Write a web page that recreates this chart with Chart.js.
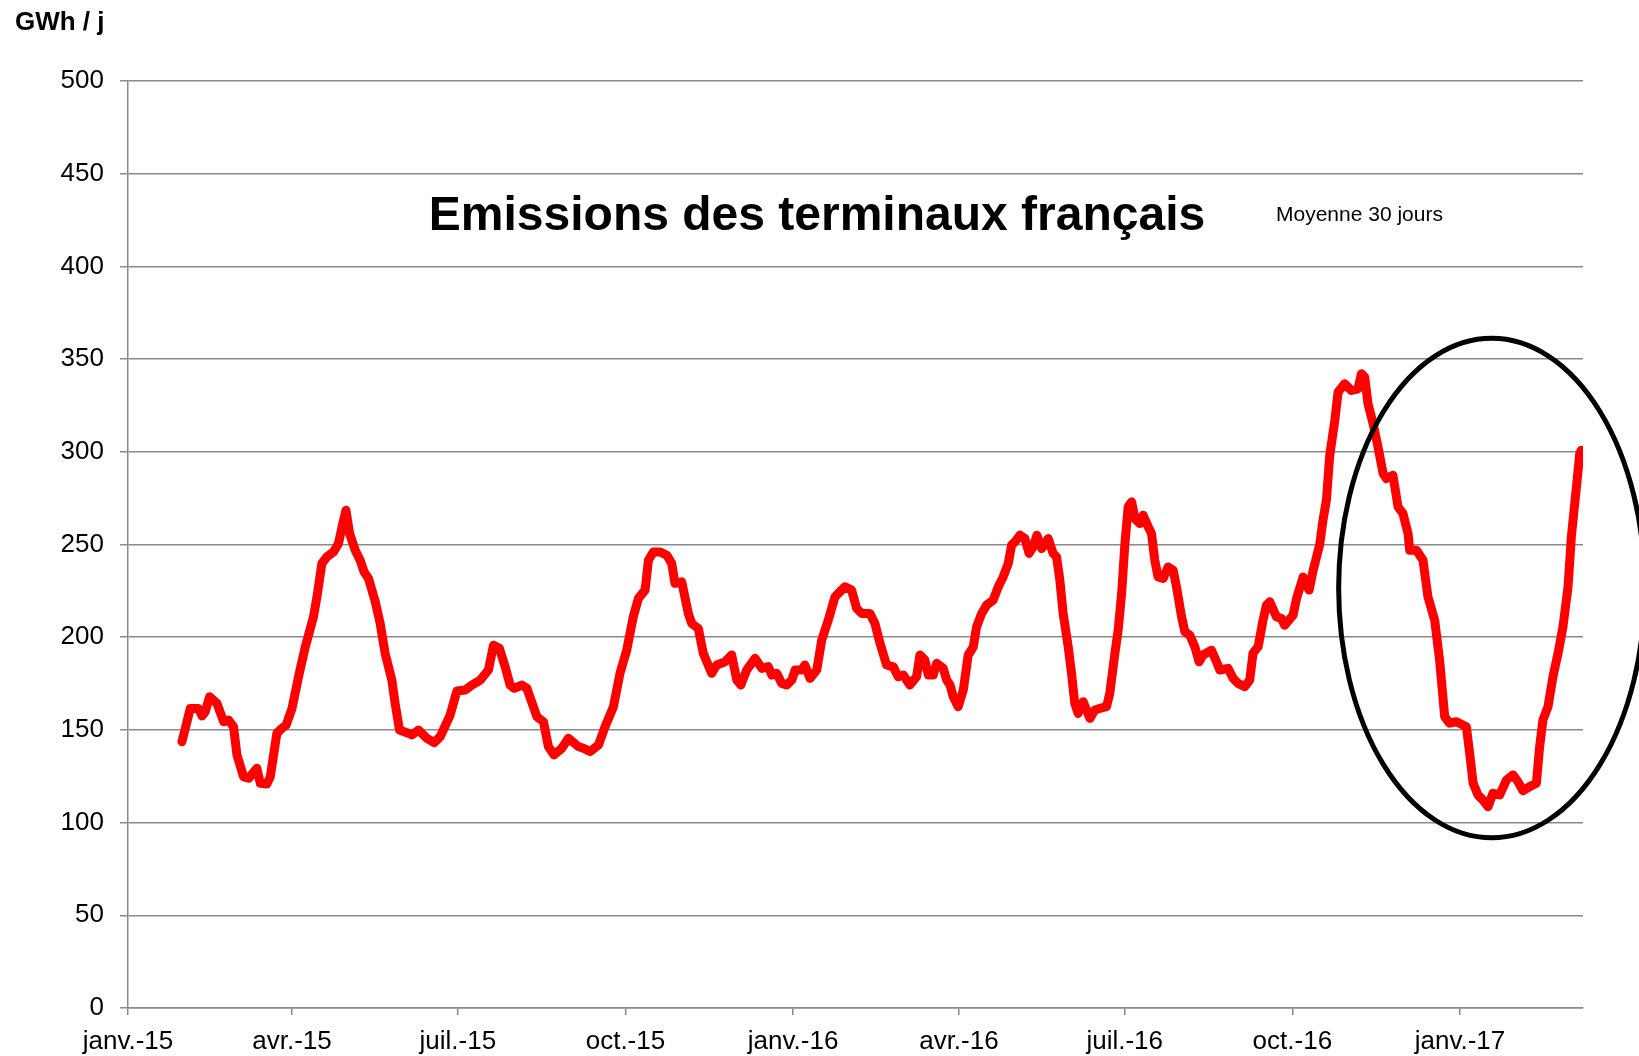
<!DOCTYPE html>
<html>
<head>
<meta charset="utf-8">
<script src="https://cdn.jsdelivr.net/npm/chart.js@4/dist/chart.umd.min.js"></script>
<style>
  html, body { margin: 0; padding: 0; background: #ffffff; }
  #wrap { width: 1639px; height: 1056px; position: relative; }
</style>
</head>
<body>
<div id="wrap"><canvas id="c" width="1639" height="1056"></canvas></div>
<script>
// Days since 1 Jan 2015 (x) and 30-day average emissions in GWh/j (y)
const days = [
  29.6, 34.2, 38.7, 40.6, 42.4, 44.8, 48.8, 52.5, 55.2, 57.9, 59.8, 63.4, 66.2, 70.7, 72.6, 76.2, 78.1,
  81.7, 84.5, 86.8, 90, 93.6, 97.3, 101.8, 103.7, 106.4, 109.1, 112.8, 115.5, 117.9, 119.6, 121.6,
  124.7, 127.4, 129.6, 132, 135.7, 138.4, 141.1, 144.8, 146.6, 149, 153, 155.8, 159.4, 164, 168,
  171.3, 176.8, 180.5, 185, 188.7, 193.3, 197.8, 200.6, 203.8, 207, 209.7, 211.9, 216.1, 218.9,
  224.4, 228, 230.7, 233.8, 238.1, 241.7, 247.2, 249.9, 253.6, 258.2, 261.8, 266.4, 270, 273.7,
  277.3, 280.1, 283.8, 285.6, 288.3, 292, 295.7, 298.4, 300.2, 303.9, 307.5, 309.4, 313, 315.7,
  320.3, 323.1, 327.6, 331.3, 334.1, 336.3, 339.5, 344.1, 347.8, 351.4, 353.3, 356, 358.8, 361.5,
  364.3, 366.1, 369.7, 371.5, 374.3, 378, 380.7, 384.3, 388, 390.7, 393.5, 397.1, 399.9, 402.6,
  407.2, 409.9, 412.7, 416.3, 420, 422.7, 425.5, 429.1, 432.8, 434.6, 437.3, 439.2, 441.9, 443.8,
  447.4, 449.3, 451.1, 452.9, 455.6, 458.4, 461.1, 463.9, 465.7, 468.5, 471.2, 474.8, 477.6, 480.3,
  483.1, 484.9, 486.7, 489.5, 492.2, 494.5, 496.8, 498.8, 501.4, 505, 507.7, 509.6, 511.4, 513.2,
  516, 517.8, 519.6, 521.4, 524.2, 527.9, 530.6, 533.3, 537, 538.8, 541.6, 543.4, 545.3, 547.1,
  548.9, 550.8, 552.6, 555.3, 557.1, 559.9, 561.7, 563.5, 565.3, 568.1, 570.8, 573.6, 575.4, 578.2,
  580, 582.7, 585.5, 587.8, 590, 594.6, 597.4, 599.2, 603.7, 606.5, 609.2, 612.9, 615.6, 617.4,
  620.2, 622.9, 624.8, 626.6, 630.3, 633, 634.8, 639.4, 641.3, 644.9, 648.2, 650.4, 654, 655.8,
  657.7, 659.5, 662.3, 664.1, 667.7, 671.4, 675, 676.9, 678.7, 680.5, 683.3, 686, 688.8, 690.6,
  694.2, 697, 699.7, 702.5, 703.4, 707.1, 710.7, 713.4, 717.1, 719.8, 722.6, 725.3, 729, 734.5,
  736.3, 738.2, 740.9, 743.6, 746.4, 749.1, 752.8, 756.5, 760.1, 762.8, 765.6, 769.2, 772.9, 774.7,
  776.5, 779.3, 782, 784.8, 787.5, 790.3, 792.1, 794.9, 796.7, 797.6
];
const emissions = [
  143.6, 161.6, 161.6, 157.5, 159.8, 167.9, 164.3, 154.4, 155.3, 151.7, 136.5, 124.8, 123.9, 129.3, 121.2, 120.8, 124.8,
  148.2, 150.9, 152.6, 161.6, 178.7, 194.8, 211, 221.8, 239.8, 243.3, 246, 250.5, 261.3, 268.5, 255.9,
  246.9, 241.5, 235.2, 231.7, 219.1, 207.4, 191.3, 176.9, 164.3, 149.9, 148.5, 147.3, 149.9, 145.5, 143.1,
  146.3, 158, 171, 171.5, 174.2, 176.9, 182.3, 195.7, 194, 184, 174.2, 172.4, 174.2, 172.4,
  157.1, 154.4, 141, 136.5, 140.1, 145.5, 141, 140.1, 138.3, 141.9, 151.7, 162.5, 180.5, 193,
  211, 220.9, 225.4, 241.5, 246, 246, 244.2, 239.8, 229, 229.9, 212.8, 207.4, 204.7, 191.3,
  180.5, 185, 186.7, 190.4, 176.9, 174.2, 182.3, 188.6, 183.2, 184.1, 179.6, 180.5, 175.1, 174.2,
  176.9, 182.3, 182.3, 185, 177.8, 182.3, 198.4, 209.2, 221.8, 224.5, 227.2, 225.4, 215.5, 212.8,
  212.8, 207.4, 196.7, 185, 184, 178.7, 179.6, 174.2, 178.7, 190.4, 187.7, 179.6, 179.6, 185.9,
  183.2, 176.9, 174.2, 167.9, 162.5, 171.5, 190.4, 194.8, 205.6, 212.8, 217.3, 220, 227.2, 232.5,
  239.8, 249.6, 251.4, 255, 253.2, 245.2, 248.7, 255, 247.8, 253.2, 245.2, 243.3, 230.8, 212.8,
  194.8, 180.5, 164.3, 158.9, 165.2, 156.2, 160.7, 161.6, 162.5, 169.7, 191.3, 203.8, 223.6, 250.5,
  270.3, 273, 264, 261.3, 265.8, 259.5, 255.9, 241.5, 232.5, 231.7, 237.9, 236.1, 227.2, 211,
  202.9, 201.1, 194.8, 186.7, 190.4, 193, 186.7, 182.3, 183.2, 177.8, 175.1, 173.3, 176.9, 191.3,
  194.8, 209.2, 217.3, 219.1, 211, 210.1, 206.5, 211.9, 220.9, 232.5, 225.4, 236.1, 250, 263.1,
  274, 298, 317, 332.2, 336.7, 333.1, 334, 342.1, 340.3, 326, 315.2, 302.6, 288.3, 285.6,
  287.3, 270.3, 266.7, 255.9, 246.9, 246.9, 241.5, 221.8, 209.2, 187.7, 157.1, 153.6, 154.4, 151.7,
  137.4, 121.2, 114.9, 112.2, 108.6, 115.8, 114.9, 123, 125.7, 122.1, 117.2, 119.4, 121.2, 141,
  155.3, 162.5, 178.7, 191.3, 205.6, 227.2, 254.1, 281, 299, 300.8
];
// x-axis tick positions (days since 1 Jan 2015) and their labels
const tickDays = [0, 90, 181, 273, 365, 456, 547, 639, 731];
const tickLabels = ['janv.-15', 'avr.-15', 'juil.-15', 'oct.-15', 'janv.-16', 'avr.-16', 'juil.-16', 'oct.-16', 'janv.-17'];
const xMax = 798.5;
const yTicks = [0, 50, 100, 150, 200, 250, 300, 350, 400, 450, 500];
// highlighted region (ellipse) in data units: centre day, centre value, half-width in days, half-height in GWh/j
const highlight = { day: 748.4, value: 226.5, rDays: 84, rValue: 134.7 };

const points = days.map((d, i) => ({ x: d, y: emissions[i] }));
const FONT = "'Liberation Sans', Arial, Helvetica, sans-serif";
const GRID = '#8a8a8a';

const overlay = {
  id: 'overlay',
  afterDatasetsDraw(chart) {
    const ctx = chart.ctx;
    const xs = chart.scales.x, ys = chart.scales.y;
    const cx = xs.getPixelForValue(highlight.day);
    const cy = ys.getPixelForValue(highlight.value);
    const rx = xs.getPixelForValue(highlight.day + highlight.rDays) - cx;
    const ry = cy - ys.getPixelForValue(highlight.value + highlight.rValue);
    ctx.save();
    ctx.beginPath();
    ctx.ellipse(cx, cy, rx, ry, 0, 0, Math.PI * 2);
    ctx.lineWidth = 5;
    ctx.strokeStyle = '#000000';
    ctx.stroke();
    ctx.restore();
  },
  afterDraw(chart) {
    const ctx = chart.ctx;
    ctx.save();
    ctx.fillStyle = '#000000';
    ctx.textBaseline = 'middle';
    ctx.textAlign = 'left';
    ctx.font = 'bold 26px ' + FONT;
    ctx.fillText('GWh / j', 15, 23);
    ctx.textAlign = 'center';
    ctx.font = 'bold 48px ' + FONT;
    ctx.fillText('Emissions des terminaux français', 817, 217);
    ctx.textAlign = 'left';
    ctx.font = '21px ' + FONT;
    ctx.fillText('Moyenne 30 jours', 1276, 215);
    ctx.restore();
  }
};

new Chart(document.getElementById('c'), {
  type: 'line',
  data: {
    datasets: [{
      data: points,
      borderColor: '#ff0000',
      borderWidth: 9,
      pointRadius: 0,
      tension: 0,
      fill: false,
      borderJoinStyle: 'round',
      borderCapStyle: 'round'
    }]
  },
  options: {
    responsive: false,
    animation: false,
    layout: { padding: { top: 81, right: 56, left: 0, bottom: 0 } },
    plugins: { legend: { display: false }, tooltip: { enabled: false } },
    scales: {
      x: {
        type: 'linear',
        min: 0,
        max: xMax,
        afterBuildTicks(scale) { scale.ticks = tickDays.map(v => ({ value: v })); },
        afterFit(scale) { scale.height = 48; },
        ticks: {
          autoSkip: false,
          maxRotation: 0,
          minRotation: 0,
          padding: 11,
          color: '#000000',
          font: { family: FONT, size: 26 },
          callback(value) {
            const i = tickDays.indexOf(value);
            return i >= 0 ? tickLabels[i] : '';
          }
        },
        grid: { drawOnChartArea: false, drawTicks: true, tickLength: 7, color: GRID, lineWidth: 1.5 },
        border: { display: true, color: GRID, width: 1.5 }
      },
      y: {
        min: 0,
        max: 500,
        afterBuildTicks(scale) { scale.ticks = yTicks.map(v => ({ value: v })); },
        afterFit(scale) { scale.width = 128; },
        ticks: {
          padding: 16,
          color: '#000000',
          font: { family: FONT, size: 26 }
        },
        grid: { color: GRID, lineWidth: 1.5, tickLength: 8 },
        border: { display: true, color: GRID, width: 1.5 }
      }
    }
  },
  plugins: [overlay]
});
</script>
</body>
</html>
